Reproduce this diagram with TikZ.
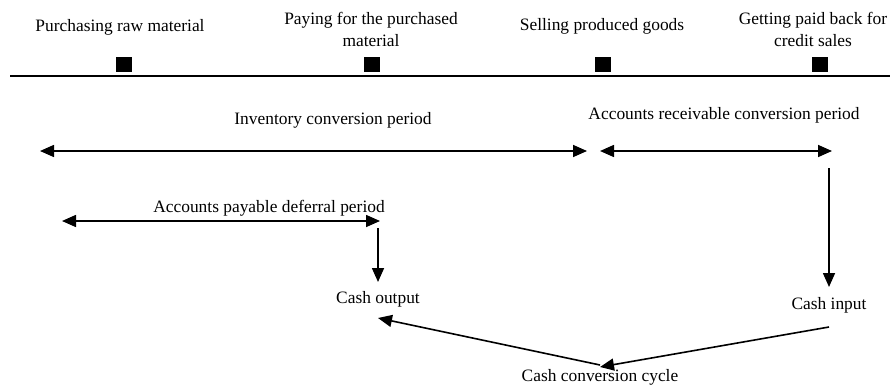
\documentclass[tikz,border=0pt]{standalone}
\usepackage{fontspec}
\setmainfont{Liberation Serif}
\usetikzlibrary{arrows.meta}
\tikzset{
  lbl/.style={inner sep=0pt, align=center, font=\fontsize{17.4}{22}\selectfont},
  sq/.style={fill=black, minimum width=16pt, minimum height=15pt, inner sep=0pt},
  conn/.style={line width=1.6pt, -{Triangle[length=14pt,width=12pt]}},
  dconn/.style={line width=1.6pt, {Triangle[length=14pt,width=12pt]}-{Triangle[length=14pt,width=12pt]}},
  rule/.style={line width=1.4pt}
}
\begin{document}
\begin{tikzpicture}[x=1pt,y=-1pt]
\useasboundingbox (0,0) rectangle (890,385);
% top events
\node[lbl] (t1) at (120,27) {Purchasing raw material};
\node[lbl] (t2) at (371,29) {Paying for the purchased\\material};
\node[lbl] (t3) at (602,26) {Selling produced goods};
\node[lbl] (t4) at (813,29) {Getting paid back for\\credit sales};
\node[sq] (s1) at (124,64.5) {};
\node[sq] (s2) at (372,64.5) {};
\node[sq] (s3) at (603,64.5) {};
\node[sq] (s4) at (820,64.5) {};
\coordinate (rl) at (10,76);
\coordinate (rr) at (890,76);
\draw[rule] (rl) -- (rr);
% periods
\node[lbl] (inv) at (333,120) {Inventory conversion period};
\coordinate (invL) at (40,151);
\coordinate (invR) at (587,151);
\draw[dconn] (invL) -- (invR);
\node[lbl] (ar) at (724,115) {Accounts receivable conversion period};
\coordinate (arL) at (600,151);
\coordinate (arR) at (832,151);
\draw[dconn] (arL) -- (arR);
\node[lbl] (ap) at (269,208) {Accounts payable deferral period};
\coordinate (apL) at (62,221);
\coordinate (apR) at (380,221);
\draw[dconn] (apL) -- (apR);
% cash nodes
\node[lbl] (co) at (378,299) {Cash output};
\node[lbl] (ci) at (829,305) {Cash input};
\node[lbl] (ccc) at (600,377.5) {Cash conversion cycle};
\coordinate (coTop) at (378,228);
\coordinate (coIn) at (378,282);
\draw[conn] (coTop) -- (coIn);
\coordinate (ciTop) at (829,168);
\coordinate (ciIn) at (829,287);
\draw[conn] (ciTop) -- (ciIn);
\coordinate (ciOut) at (829,327);
\coordinate (cccIn) at (600,367);
\draw[conn] (ciOut) -- (cccIn);
\coordinate (cccOut) at (600,365);
\coordinate (coBot) at (378,318);
\draw[conn] (cccOut) -- (coBot);
\end{tikzpicture}
\end{document}
